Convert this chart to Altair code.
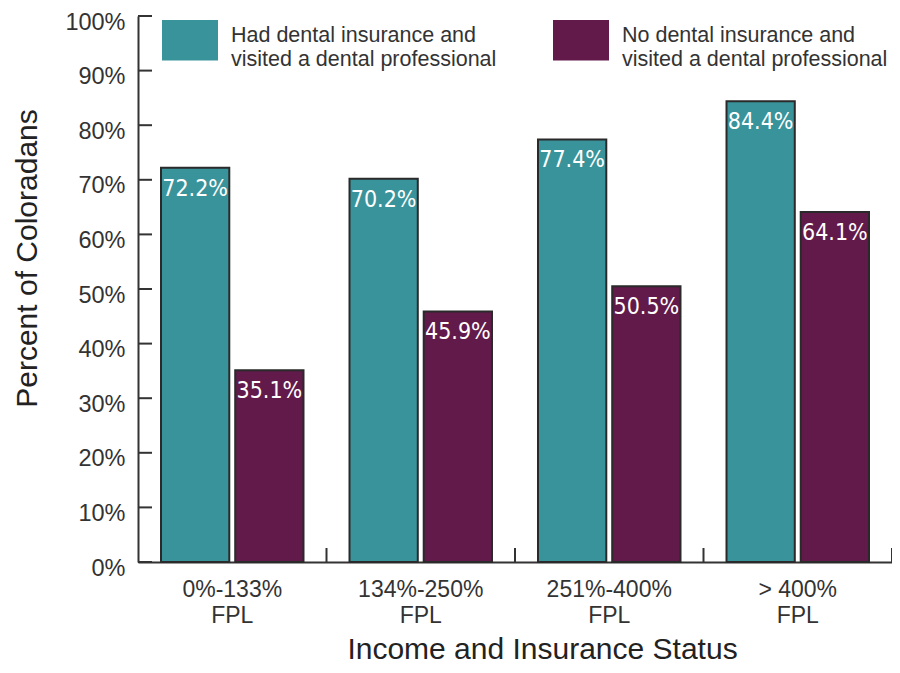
import altair as alt
import pandas as pd

categories = ["0%-133%|FPL", "134%-250%|FPL", "251%-400%|FPL", "> 400%|FPL"]
series = [
    "Had dental insurance and|visited a dental professional",
    "No dental insurance and|visited a dental professional",
]
insured = [72.2, 70.2, 77.4, 84.4]
uninsured = [35.1, 45.9, 50.5, 64.1]
y_ticks = [0, 10, 20, 30, 40, 50, 60, 70, 80, 90, 100]
colors = ["#39939A", "#621A4A"]

rows = []
for c, a, b in zip(categories, insured, uninsured):
    rows.append({"cat": c, "series": series[0], "value": a, "label": f"{a:.1f}%"})
    rows.append({"cat": c, "series": series[1], "value": b, "label": f"{b:.1f}%"})
df = pd.DataFrame(rows)

FONT = "Liberation Sans, Arial, Helvetica, sans-serif"
NARROW = "Liberation Sans Narrow, Arial Narrow, DejaVu Sans Condensed, sans-serif"

X_TITLE = "Income and Insurance Status"
Y_TITLE = "Percent of Coloradans"

x_scale = alt.Scale(domain=categories, paddingInner=0, paddingOuter=0)
y_scale = alt.Scale(domain=[0, 100], nice=False)

x_axis = alt.Axis(
    labelExpr="split(datum.label, '|')",
    labelAngle=0,
    labelFontSize=23,
    labelColor="#333333",
    labelLineHeight=26,
    labelPadding=16,
    labelBaseline="top",
    ticks=False,
    tickSize=0,
    domainColor="#333333",
    domainWidth=2,
    titleFontSize=30,
    titleFontWeight="normal",
    titleColor="#222222",
    titleX=404,
    titleY=96,
    titleBaseline="alphabetic",
    titleAlign="center",
)
y_axis = alt.Axis(
    values=y_ticks,
    labelExpr="datum.value + '%'",
    labelFontSize=23.5,
    labelColor="#333333",
    labelPadding=13,
    labelBaseline="alphabetic",
    labelOffset=13,
    labelFlush=False,
    labelOverlap=False,
    ticks=False,
    tickSize=0,
    grid=False,
    domainColor="#333333",
    domainWidth=2,
    titleFontSize=30,
    titleFontWeight="normal",
    titleColor="#222222",
    titleX=-102,
    titleY=242,
    titleAngle=270,
    titleBaseline="alphabetic",
    titleAlign="center",
)


def xenc(**kw):
    return alt.X("cat:N", sort=categories, scale=x_scale, axis=x_axis, title=X_TITLE, **kw)


def yenc():
    return alt.Y("value:Q", scale=y_scale, axis=y_axis, title=Y_TITLE)


xoff_enc = alt.XOffset(
    "series:N", sort=series, scale=alt.Scale(paddingInner=0.08, paddingOuter=0.31)
)

bars = alt.Chart(df).mark_bar(stroke="#2a2a2a", strokeWidth=2).encode(
    x=xenc(),
    xOffset=xoff_enc,
    y=yenc(),
    color=alt.Color(
        "series:N",
        scale=alt.Scale(domain=series, range=colors),
        legend=alt.Legend(
            title=None,
            orient="none",
            legendX=24,
            legendY=-8,
            direction="horizontal",
            symbolType="M-1,-0.57L1,-0.57L1,0.875L-1,0.875Z",
            symbolSize=3136,
            symbolStrokeWidth=0,
            symbolOpacity=1,
            labelFontSize=21.5,
            labelColor="#333333",
            labelExpr="split(datum.label, '|')",
            labelLimit=500,
            labelOffset=13,
            labelBaseline="middle",
            columnPadding=56,
            padding=0,
        ),
    ),
)

text = alt.Chart(df).mark_text(
    color="white", font=NARROW, fontSize=23, baseline="alphabetic", dy=28, align="center"
).encode(
    x=xenc(),
    xOffset=xoff_enc,
    y=yenc(),
    text="label:N",
)

ytick_rules = alt.Chart(pd.DataFrame({"value": y_ticks})).mark_rule(
    color="#333333", strokeWidth=2
).encode(
    y=yenc(),
    x=alt.value(0),
    x2=alt.value(14),
)

xtick_rules = alt.Chart(pd.DataFrame({"cat": categories})).mark_rule(
    color="#333333", strokeWidth=2
).encode(
    x=xenc(bandPosition=1),
    y=alt.value(546),
    y2=alt.value(532),
)

chart = (
    alt.layer(bars, text, ytick_rules, xtick_rules)
    .properties(
        width=754,
        height=546,
        autosize="none",
        padding={"left": 130, "top": 8, "right": 0, "bottom": 103},
    )
    .configure(font=FONT)
    .configure_view(stroke=None)
)

chart.save("out.html", embed_options={"renderer": "svg", "actions": False})
